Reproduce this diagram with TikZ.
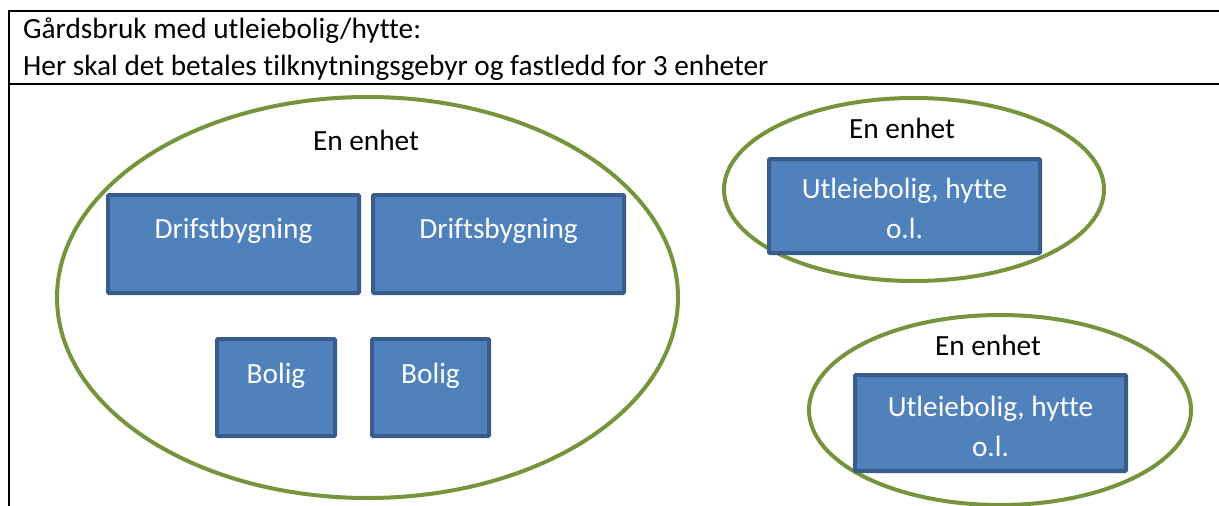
\documentclass[tikz,border=0pt]{standalone}
\usepackage{fontspec}
\setmainfont[Ligatures={NoCommon}]{Carlito}
\usetikzlibrary{shapes.geometric}
\definecolor{enhetgreen}{HTML}{77933C}
\definecolor{byggfill}{HTML}{4F81BD}
\definecolor{byggborder}{HTML}{385D8A}
\tikzset{
    enhet/.style={ellipse, draw=enhetgreen, line width=4pt, inner sep=0pt},
    bygg/.style={rectangle, draw=byggborder, fill=byggfill, line width=4pt,
        rounded corners=1pt, inner sep=0pt},
    byggtext/.style={text=white, anchor=base, align=center, inner sep=0pt,
        font=\fontsize{29.3}{40}\selectfont},
    plaintext/.style={anchor=base, inner sep=0pt, font=\fontsize{29.3}{37}\selectfont}
}
\begin{document}
\begin{tikzpicture}[x=1pt, y=-1pt]
            \useasboundingbox (0,0) rectangle (1219,506);
            % table frame
            \draw[line width=2pt, black] (1219,11) -- (9,11) -- (9,506);
            \draw[line width=2pt, black] (9,84) -- (1219,84);
            \node[plaintext, anchor=base west] (tittel) at (23,38) {Gårdsbruk med utleiebolig/hytte:};
            \node[plaintext, anchor=base west] (forklaring) at (23,75) {Her skal det betales tilknytningsgebyr og fastledd for 3 enheter};
            % the three units
            \node[enhet, minimum width=621pt, minimum height=401pt] (gard) at (367.5,297.5) {};
            \node[enhet, minimum width=380pt, minimum height=183pt] (hytte1) at (914,189.5) {};
            \node[enhet, minimum width=382pt, minimum height=190pt] (hytte2) at (1000,410) {};
            \node[plaintext] (gardlabel) at (366,150) {En enhet};
            \node[plaintext] (hytte1label) at (902,138) {En enhet};
            \node[plaintext] (hytte2label) at (988,355) {En enhet};
            % buildings
            \node[bygg, minimum width=251pt, minimum height=98pt] (drift1) at (233.5,244) {};
            \node[bygg, minimum width=251pt, minimum height=98pt] (drift2) at (498.5,244) {};
            \node[bygg, minimum width=118pt, minimum height=97pt] (bolig1) at (276,387.5) {};
            \node[bygg, minimum width=117pt, minimum height=97pt] (bolig2) at (430.5,387.5) {};
            \node[bygg, minimum width=271pt, minimum height=94pt] (utleie1) at (904.5,206) {};
            \node[bygg, minimum width=271pt, minimum height=96pt] (utleie2) at (990.5,423) {};
            \node[byggtext] (drift1text) at (233.5,238) {Drifstbygning};
            \node[byggtext] (drift2text) at (498.5,238) {Driftsbygning};
            \node[byggtext] (bolig1text) at (276,383) {Bolig};
            \node[byggtext] (bolig2text) at (430.5,383) {Bolig};
            \node[byggtext] (utleie1text) at (904.5,238) {Utleiebolig, hytte\\o.l.};
            \node[byggtext] (utleie2text) at (990.5,456) {Utleiebolig, hytte\\o.l.};
        \end{tikzpicture}
\end{document}
